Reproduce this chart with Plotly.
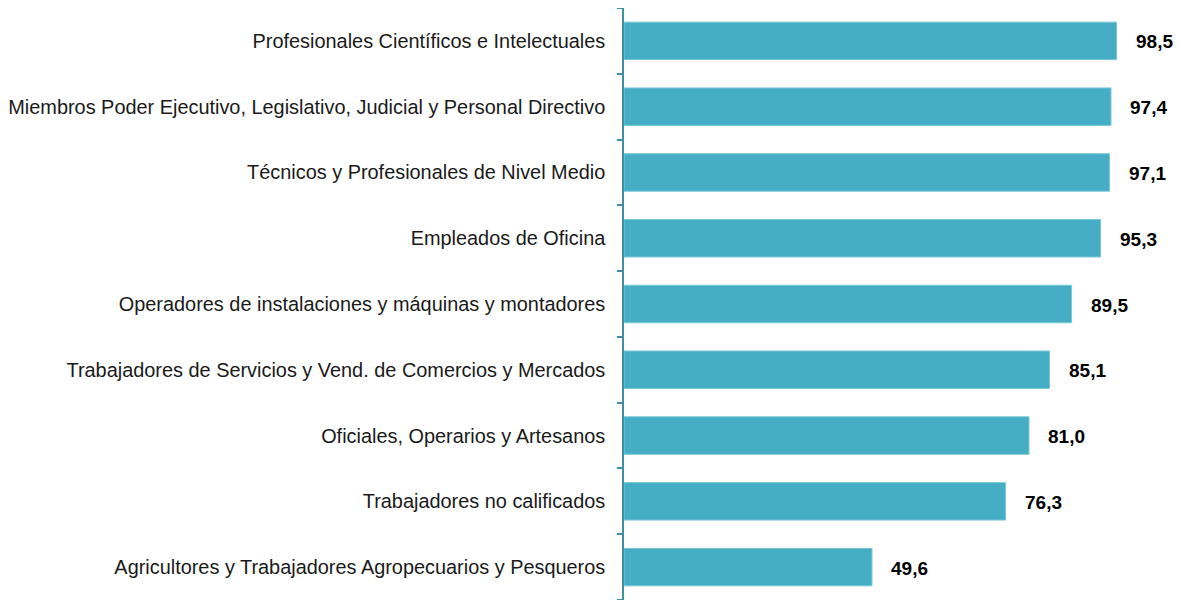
import plotly.graph_objects as go

categories = [
    "Profesionales Científicos e Intelectuales",
    "Miembros Poder Ejecutivo, Legislativo, Judicial y Personal Directivo",
    "Técnicos y Profesionales de Nivel Medio",
    "Empleados de Oficina",
    "Operadores de instalaciones y máquinas y montadores",
    "Trabajadores de Servicios y Vend. de Comercios y Mercados",
    "Oficiales, Operarios y Artesanos",
    "Trabajadores no calificados",
    "Agricultores y Trabajadores Agropecuarios y Pesqueros",
]
values = [98.5, 97.4, 97.1, 95.3, 89.5, 85.1, 81.0, 76.3, 49.6]
value_labels = ["98,5", "97,4", "97,1", "95,3", "89,5", "85,1", "81,0", "76,3", "49,6"]

BAR = "#45ADC4"
FONT = "Liberation Sans, Arial, sans-serif"

fig = go.Figure(go.Bar(
    x=values, y=categories, orientation="h",
    marker=dict(color=BAR, line=dict(color="#7CC8D8", width=1)),
    hoverinfo="skip",
))

for c, v, t in zip(categories, values, value_labels):
    fig.add_annotation(x=v, y=c, text="<b>%s</b>" % t, showarrow=False,
                       xanchor="left", xshift=17, yshift=-1,
                       font=dict(family=FONT, size=19, color="#000000"))

fig.update_layout(
    width=1173, height=592,
    margin=dict(l=614, r=7, t=0, b=0),
    paper_bgcolor="white", plot_bgcolor="white",
    bargap=0.43,
    showlegend=False,
    font=dict(family=FONT, size=19.9, color="#1a1a1a"),
    xaxis=dict(range=[0, 110], visible=False, fixedrange=True),
    yaxis=dict(
        categoryorder="array", categoryarray=categories[::-1],
        showline=True, linecolor="#3E8FA6", linewidth=1.5,
        ticks="outside", ticklen=5, tickcolor="#3E8FA6", tickwidth=1.5,
        tickson="boundaries", ticklabelstandoff=13,
        showgrid=False, zeroline=False,
        tickfont=dict(family=FONT, size=19.9, color="#1a1a1a"),
    ),
)

fig.write_html("out.html")
